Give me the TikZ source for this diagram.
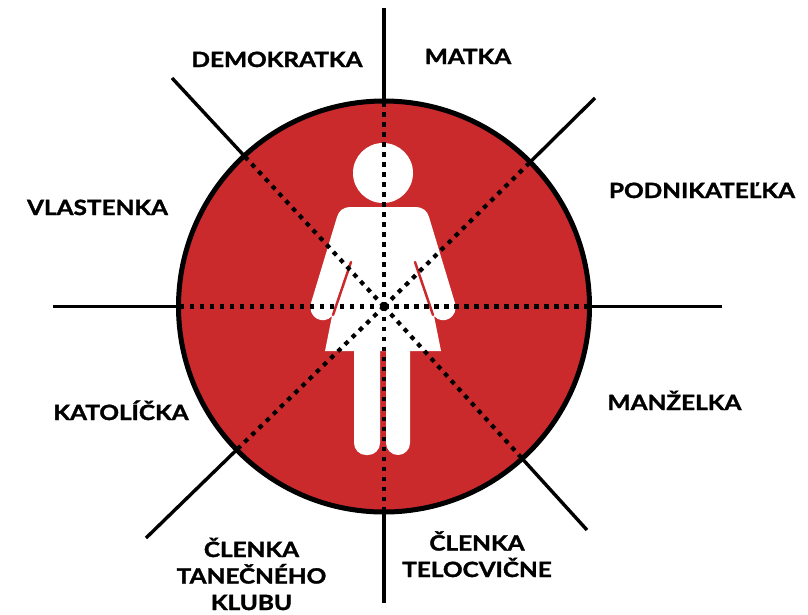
\documentclass[tikz,border=0pt]{standalone}
\usepackage{fontspec}
\setmainfont{Lato}[FakeStretch=1.16, BoldFeatures={FakeBold=1.6}]
\usetikzlibrary{calc}
\definecolor{disc}{HTML}{CA2A2C}
\begin{document}
\begin{tikzpicture}[x=1pt,y=-1pt,
	lab/.style={font=\fontsize{21}{26.5}\selectfont\bfseries, inner sep=0pt, anchor=base, align=center},
	dotline/.style={line width=4.2pt, dash pattern=on 4.5pt off 5.5pt},
	rayline/.style={line width=3.4pt},
	rim/.style={line width=5pt},
	slit/.style={disc, line width=2.5pt, line cap=round}]
	\useasboundingbox (0,0) rectangle (808,614);

	\coordinate (C) at (384,306.5);
	\coordinate (E1) at (384,8);
	\coordinate (E2) at (595,98);
	\coordinate (E3) at (722,306.5);
	\coordinate (E4) at (587,530);
	\coordinate (E5) at (384,603);
	\coordinate (E6) at (146,538);
	\coordinate (E7) at (53,306.5);
	\coordinate (E8) at (172,78);

	\fill [disc] (C) circle [radius=205.5pt];

	\fill [white] (383,173) circle [radius=30pt];
	\fill [white] (352,207) -- (414,207) .. controls (424,207) and (427,211) .. (429,217)
		-- (455,303) .. controls (459,317) and (443,326) .. (434,316)
		-- (441,351) -- (325,351) -- (332,316)
		.. controls (323,326) and (307,317) .. (311,303)
		-- (337,217) .. controls (339,211) and (342,207) .. (352,207) -- cycle;
	\fill [white, rounded corners=12pt] (354,330) rectangle (380,455);
	\fill [white, rounded corners=12pt] (386,330) rectangle (410,455);
	\draw [slit] (351,262) -- (333,315);
	\draw [slit] (415,262) -- (433,315);

	\foreach \e in {E1,E2,E3,E4,E5,E6,E7,E8} {
		\draw [dotline] (C) -- ($(C)!205.5pt!(\e)$);
		\draw [rayline] ($(C)!205.5pt!(\e)$) -- (\e);
	}
	\draw [rim] (C) circle [radius=205.5pt];

	\node (Dem) at (277,67) [lab] {DEMOKRATKA};
	\node (Mat) at (468,64) [lab] {MATKA};
	\node (Pod) at (702,198) [lab] {PODNIKATEĽKA};
	\node (Man) at (674.5,410) [lab] {MANŽELKA};
	\node (Tel) at (477,577) [lab] {ČLENKA\\TELOCVIČNE};
	\node (Tan) at (251.5,610) [lab] {ČLENKA\\TANEČNÉHO\\KLUBU};
	\node (Kat) at (121,420) [lab] {KATOLÍČKA};
	\node (Vla) at (97.5,215) [lab] {VLASTENKA};
\end{tikzpicture}
\end{document}
